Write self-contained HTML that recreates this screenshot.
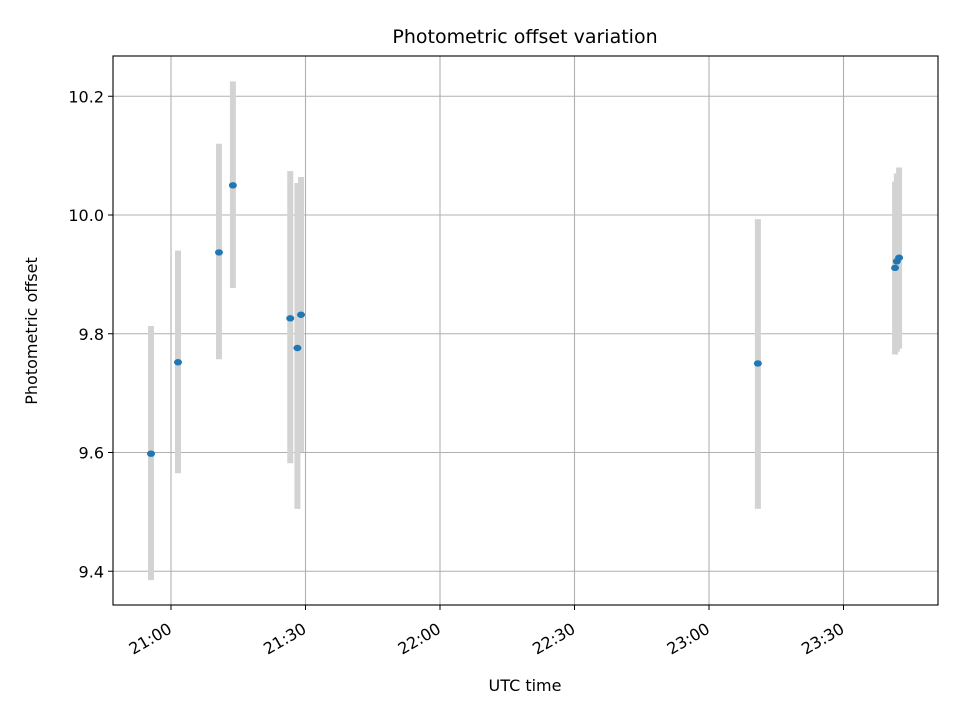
<!DOCTYPE html>
<html><head><meta charset="utf-8"><style>
body{margin:0;background:#fff;font-family:"Liberation Sans","DejaVu Sans",sans-serif}
</style></head><body>
<svg id="chart" width="960" height="720" xmlns="http://www.w3.org/2000/svg" font-family="DejaVu Sans, Liberation Sans, sans-serif">
<rect width="960" height="720" fill="#fff"/>
<g id="grid"></g>
<g id="bars"></g>
<g id="pts"></g>
<rect x="113" y="56" width="825" height="549" fill="none" stroke="#000" stroke-width="1.1"/>
<g id="ticks" font-size="16"></g>
<text x="525" y="43" text-anchor="middle" font-size="19">Photometric offset variation</text>
<text x="525" y="691" text-anchor="middle" font-size="16">UTC time</text>
<text transform="translate(37,331) rotate(-90)" text-anchor="middle" font-size="16">Photometric offset</text>
</svg>
<script>
// minutes after 21:00
const times=[-4.46,1.56,10.7,13.8,26.6,28.2,29.0,130.9,161.5,161.9,162.4];
const values=[9.598,9.752,9.937,10.05,9.826,9.776,9.832,9.75,9.911,9.922,9.928];
const lows=[9.385,9.565,9.757,9.877,9.582,9.505,9.601,9.505,9.765,9.77,9.775];
const highs=[9.813,9.94,10.12,10.225,10.074,10.054,10.064,9.993,10.056,10.07,10.08];
const yTicks=[9.4,9.6,9.8,10.0,10.2];
const xTicks=[0,30,60,90,120,150];
const xTickLabels=["21:00","21:30","22:00","22:30","23:00","23:30"];
const NS="http://www.w3.org/2000/svg";
const X=t=>171+t*134.5/30;
const Y=v=>215-(v-10.0)/0.2*118.75;
function mk(tag,attrs,parent){const e=document.createElementNS(NS,tag);for(const k in attrs)e.setAttribute(k,attrs[k]);document.getElementById(parent).appendChild(e);return e;}
yTicks.forEach(v=>{
 const g=mk('line',{x1:113,x2:938,y1:Y(v),y2:Y(v),stroke:'#b0b0b0','stroke-width':1.1},'grid');
 
 
 const t=mk('line',{x1:108,x2:113,y1:Y(v),y2:Y(v),stroke:'#000'},'ticks');
 
 
 const l=mk('text',{x:104,y:Y(v)+6,'text-anchor':'end'},'ticks');
 l.textContent=v.toFixed(1);
 
 
});
xTicks.forEach((m,i)=>{
 const g=mk('line',{x1:X(m),x2:X(m),y1:56,y2:605,stroke:'#b0b0b0','stroke-width':1.1},'grid');
 
 
 const t=mk('line',{x1:X(m),x2:X(m),y1:605,y2:610,stroke:'#000'},'ticks');
 
 
 const lx=X(m)+2, ly=632;
 const l=mk('text',{x:lx,y:ly,'text-anchor':'end',transform:`rotate(-30 ${lx} ${ly})`},'ticks');
 l.textContent=xTickLabels[i];
 
 
});
times.forEach((t,i)=>{
 const b=mk('line',{x1:X(t),x2:X(t),y1:Y(highs[i]),y2:Y(lows[i]),stroke:'#d3d3d3','stroke-width':6},'bars');
 
 
});
times.forEach((t,i)=>{
 const p=mk('ellipse',{cx:X(t),cy:Y(values[i]),rx:4,ry:3.2,fill:'#1f77b4'},'pts');
 
 
});
</script>
</body></html>
